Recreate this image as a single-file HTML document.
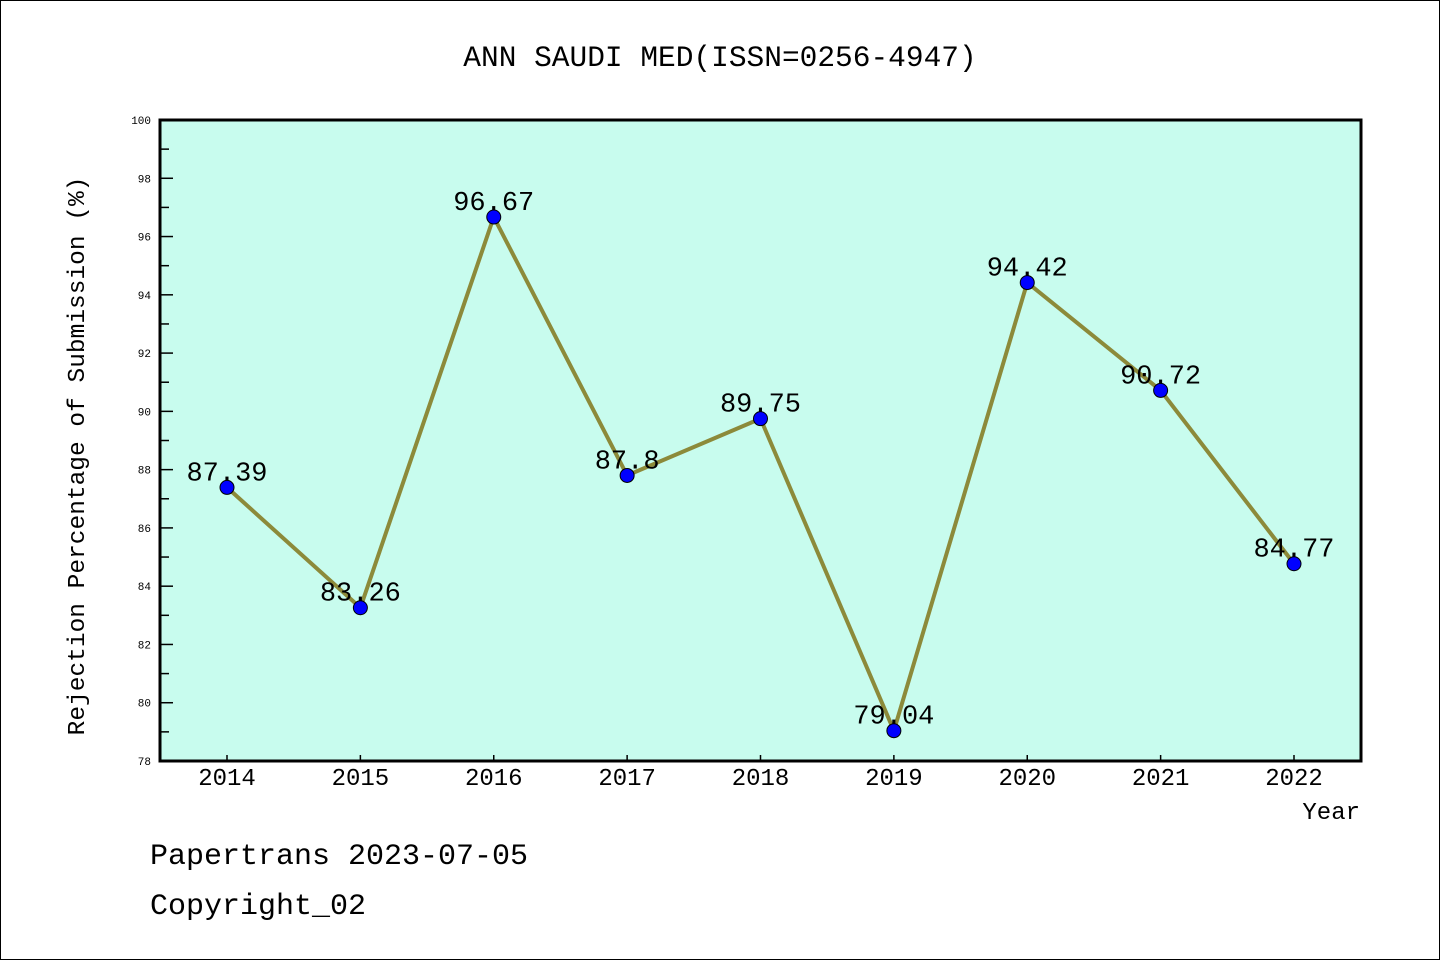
<!DOCTYPE html>
<html><head><meta charset="utf-8"><style>
body{margin:0;background:#fff}
svg{display:block;font-family:"Liberation Mono","DejaVu Sans Mono",monospace}
</style></head><body>
<svg id="chart" width="1440" height="960" xmlns="http://www.w3.org/2000/svg">
<rect x="0.5" y="0.5" width="1439" height="959" fill="#fff" stroke="#000"/>
<text x="720" y="66" text-anchor="middle" font-size="29.5">ANN SAUDI MED(ISSN=0256-4947)</text>
<rect x="160" y="120" width="1201" height="641" fill="#c8fcee"/>
<g id="axes"></g>
<g id="series"></g>
<rect x="160" y="120" width="1201" height="641" fill="none" stroke="#000" stroke-width="3"/>
<text transform="translate(84,456) rotate(-90)" text-anchor="middle" font-size="24.5">Rejection Percentage of Submission (%)</text>
<text x="1360" y="819" text-anchor="end" font-size="24">Year</text>
<text x="150" y="864" font-size="30">Papertrans 2023-07-05</text>
<text x="150" y="914" font-size="30">Copyright_02</text>
</svg>
<script>
const categories=["2014","2015","2016","2017","2018","2019","2020","2021","2022"];
const values=[87.39,83.26,96.67,87.8,89.75,79.04,94.42,90.72,84.77];
const valueLabels=["87.39","83.26","96.67","87.8","89.75","79.04","94.42","90.72","84.77"];
const yTicks=[78,80,82,84,86,88,90,92,94,96,98,100];
const NS="http://www.w3.org/2000/svg";
const yMin=78,yMax=100,plotTop=120,plotBot=761;
function yScale(v){return plotBot-(v-yMin)/(yMax-yMin)*(plotBot-plotTop);}
function xScale(i){return 227+i*(1294-227)/(categories.length-1);}
function mk(tag,attrs,parent){const e=document.createElementNS(NS,tag);for(const k in attrs)e.setAttribute(k,attrs[k]);parent.appendChild(e);return e;}
const axesG=document.getElementById('axes'),serG=document.getElementById('series');
yTicks.forEach((t,i)=>{
  const l=mk('line',{x1:160,x2:173,y1:yScale(t),y2:yScale(t),stroke:'#000','stroke-width':1.5},axesG);
  
  
  const tx=mk('text',{x:151,y:yScale(t)+4,'text-anchor':'end','font-size':11},axesG);
  tx.textContent=t;
  
  
  if(i<yTicks.length-1){
    const m=mk('line',{x1:160,x2:169,y1:yScale(t+1),y2:yScale(t+1),stroke:'#000','stroke-width':1.5},axesG);
    
    
  }
});
categories.forEach((c,i)=>{
  const l=mk('line',{x1:xScale(i),x2:xScale(i),y1:plotBot,y2:plotBot-6,stroke:'#000','stroke-width':1.5},axesG);
  
  
  const tx=mk('text',{x:xScale(i),y:785,'text-anchor':'middle','font-size':24},axesG);
  tx.textContent=c;
  
  
});
const pl=mk('polyline',{points:values.map((v,i)=>xScale(i)+','+yScale(v)).join(' '),fill:'none',stroke:'#8c8a3a','stroke-width':4},serG);


values.forEach((v,i)=>{
  const c=mk('circle',{cx:xScale(i),cy:yScale(v),r:7,fill:'#0000ff',stroke:'#000','stroke-width':1},serG);
  
  
  const t=mk('text',{x:xScale(i),y:yScale(v)-7,'text-anchor':'middle','font-size':27},serG);
  t.textContent=valueLabels[i];
  
  
});
</script>
</body></html>
